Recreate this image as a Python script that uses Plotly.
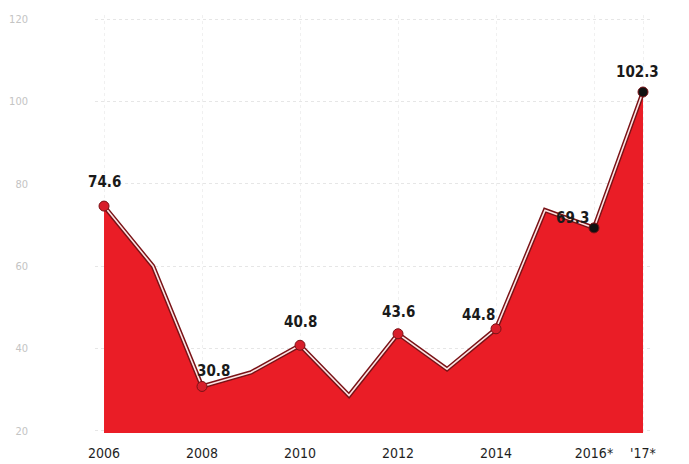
import plotly.graph_objects as go

years = [2006, 2007, 2008, 2009, 2010, 2011, 2012, 2013, 2014, 2015, 2016, 2017]
values = [74.6, 60.0, 30.8, 34.2, 40.8, 28.6, 43.6, 35.0, 44.8, 73.6, 69.3, 102.3]

labeled_years = [2006, 2008, 2010, 2012, 2014, 2016, 2017]
labeled_values = [74.6, 30.8, 40.8, 43.6, 44.8, 69.3, 102.3]
marker_colors = ["#d81e2a", "#d81e2a", "#d81e2a", "#d81e2a", "#d81e2a", "#111111", "#111111"]

tick_years = [2006, 2008, 2010, 2012, 2014, 2016, 2017]
tick_text = ["2006", "2008", "2010", "2012", "2014", "2016*", "'17*"]
y_ticks = [20, 40, 60, 80, 100, 120]

# label offsets (pixels) per labeled point
label_dx = [0, 11, 0, 0, -18, -22, -6]
label_dy = [24, 15, 23, 22, 14, 10, 20]

fig = go.Figure()
fig.add_trace(go.Scatter(x=years, y=values, mode="lines", fill="tozeroy",
                         fillcolor="#ea1d26", line=dict(color="#7a1216", width=4.5),
                         hoverinfo="skip"))
fig.add_trace(go.Scatter(x=years, y=values, mode="lines",
                         line=dict(color="#fbe3e3", width=1.6), hoverinfo="skip"))
fig.add_trace(go.Scatter(x=labeled_years, y=labeled_values, mode="markers",
                         marker=dict(size=10, color=marker_colors,
                                     line=dict(color="#7a1216", width=1)),
                         hoverinfo="skip"))

font_fam = "DejaVu Sans Condensed, Liberation Sans Narrow, sans-serif"
for x, y, dx, dy in zip(labeled_years, labeled_values, label_dx, label_dy):
    fig.add_annotation(x=x, y=y, text=f"<b>{y:.1f}</b>", showarrow=False,
                       xshift=dx, yshift=dy,
                       font=dict(family=font_fam, size=15, color="#1a1a1a"))

fig.update_layout(
    width=689, height=464,
    margin=dict(l=87, r=44, t=7, b=39),
    paper_bgcolor="white", plot_bgcolor="white",
    showlegend=False,
    xaxis=dict(range=[2005.816, 2017.204], tickmode="array", tickvals=tick_years,
               ticktext=tick_text, showgrid=True, gridcolor="#f0f0f0", griddash="dot",
               zeroline=False, showline=False, ticks="", automargin=False,
               tickfont=dict(family=font_fam, size=14, color="#1e1e1e"),
               ticklabelstandoff=10),
    yaxis=dict(range=[19.5, 121], tickmode="array", tickvals=y_ticks,
               showgrid=True, gridcolor="#e6e6e6", griddash="dot", gridwidth=1,
               zeroline=False, showline=False, ticks="", automargin=False,
               tickfont=dict(family=font_fam, size=11, color="#c4c4c4"),
               ticklabelstandoff=66),
)

fig.write_html("out.html")
